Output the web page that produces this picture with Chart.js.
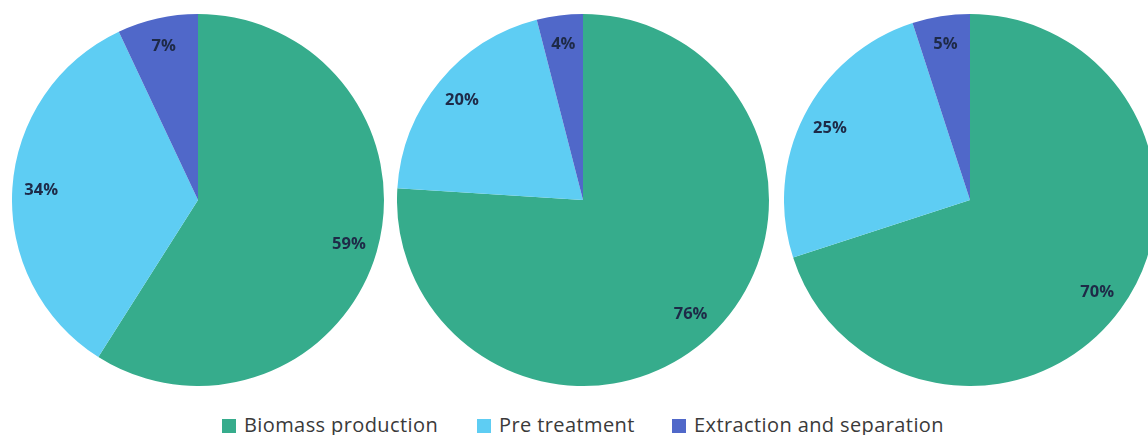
<!DOCTYPE html>
<html>
<head>
<meta charset="utf-8">
<script src="https://cdn.jsdelivr.net/npm/chart.js@4/dist/chart.umd.min.js"></script>
<style>
  html, body { margin: 0; padding: 0; background: #ffffff; overflow: hidden; }
  body { width: 1148px; height: 435px; position: relative; }
  .pie { position: absolute; top: 14px; width: 372px; height: 372px; }
  #legend { position: absolute; left: 0; top: 411px; width: 1148px; height: 28px;
            font-family: "Open Sans", "DejaVu Sans", sans-serif; font-size: 20px;
            letter-spacing: 0.4px; color: #3a3a3a; }
  .item { position: absolute; top: 0; white-space: nowrap; line-height: 28px; }
  .box { display: inline-block; width: 14px; height: 14px; margin-right: 8px; vertical-align: -1px; }
</style>
</head>
<body>
<div class="pie" style="left:12px"><canvas id="pie1"></canvas></div>
<div class="pie" style="left:397px"><canvas id="pie2"></canvas></div>
<div class="pie" style="left:784px"><canvas id="pie3"></canvas></div>
<div id="legend"></div>
<script>
// Process stages and their share of the total in each of the three scenarios
const stages = ["Biomass production", "Pre treatment", "Extraction and separation"];
const stageColors = ["#36ac8c", "#5ecdf3", "#5068c9"];
const scenario1 = [59, 34, 7];
const scenario2 = [76, 20, 4];
const scenario3 = [70, 25, 5];

// Percentage labels drawn inside each slice
const sliceLabels = {
  id: "sliceLabels",
  afterDatasetsDraw(chart) {
    const ctx = chart.ctx;
    const meta = chart.getDatasetMeta(0);
    const values = chart.data.datasets[0].data;
    ctx.save();
    ctx.font = "bold 16.5px 'Open Sans', 'DejaVu Sans', sans-serif";
    ctx.fillStyle = "#1e2a47";
    ctx.textAlign = "center";
    ctx.textBaseline = "middle";
    meta.data.forEach((arc, i) => {
      const p = arc.getProps(["x", "y", "startAngle", "endAngle", "outerRadius"], true);
      const a = (p.startAngle + p.endAngle) / 2;
      const r = p.outerRadius * 0.845;
      ctx.fillText(values[i] + "%", p.x + Math.cos(a) * r, p.y + Math.sin(a) * r);
    });
    ctx.restore();
  }
};

function makePie(id, values) {
  return new Chart(document.getElementById(id), {
    type: "pie",
    data: {
      labels: stages,
      datasets: [{ data: values, backgroundColor: stageColors, borderWidth: 0 }]
    },
    options: {
      responsive: true,
      maintainAspectRatio: false,
      animation: false,
      layout: { padding: 0 },
      plugins: { legend: { display: false }, tooltip: { enabled: false } }
    },
    plugins: [sliceLabels]
  });
}

makePie("pie1", scenario1);
makePie("pie2", scenario2);
makePie("pie3", scenario3);

// Shared legend under the pies
const legendLeft = [222, 477, 672];
const legend = document.getElementById("legend");
stages.forEach((name, i) => {
  const item = document.createElement("span");
  item.className = "item";
  item.style.left = legendLeft[i] + "px";
  const box = document.createElement("span");
  box.className = "box";
  box.style.background = stageColors[i];
  item.appendChild(box);
  item.appendChild(document.createTextNode(name));
  legend.appendChild(item);
});
</script>
</body>
</html>
